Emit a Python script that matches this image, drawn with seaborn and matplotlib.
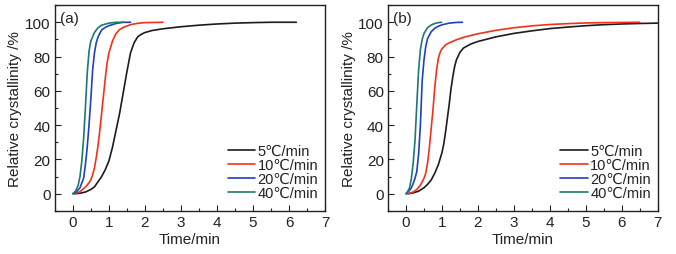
import matplotlib
matplotlib.use("Agg")
import matplotlib.pyplot as plt
from matplotlib.ticker import MultipleLocator
import seaborn as sns
import pandas as pd

sns.set_theme(style="white")
plt.rcParams['font.family'] = ['Liberation Sans', 'DejaVu Sans']

labels = ["5℃/min", "10℃/min", "20℃/min", "40℃/min"]
colors = ["#1c1c1c", "#f5301a", "#2040c0", "#1a7a70"]

# Panel (a)
a5_t = [0.05,0.2,0.35,0.5,0.6,0.7,0.8,0.9,1.0,1.1,1.2,1.3,1.4,1.5,1.6,1.7,1.8,1.9,2.0,2.2,2.5,3.0,3.5,4.0,4.5,5.0,5.5,6.2]
a5_y = [0,0.3,1,2.5,4,7,10,14,19,27,37,47,59,71,82,88,91.5,93,94,95.2,96.2,97.4,98.3,99,99.5,99.8,100,100]
a10_t = [0.05,0.2,0.3,0.4,0.5,0.55,0.6,0.65,0.7,0.75,0.8,0.85,0.9,0.95,1.0,1.1,1.2,1.3,1.4,1.6,1.8,2.0,2.5]
a10_y = [0,1.2,3,5,8,11,15,21,28,37,47,57,67,76,82,89,93.5,95.8,97,98.6,99.4,99.8,100]
a20_t = [0.0,0.1,0.2,0.3,0.35,0.4,0.45,0.5,0.55,0.6,0.65,0.7,0.8,0.9,1.0,1.2,1.4,1.6]
a20_y = [0,1,3.5,9,17,27,40,55,72,82,88,91.5,95.5,97,98,99.3,100,100]
a40_t = [0.0,0.05,0.1,0.15,0.2,0.25,0.3,0.35,0.4,0.45,0.5,0.6,0.7,0.8,1.0,1.2,1.4]
a40_y = [0,1,2.5,5,10,19,32,50,70,83,89,94,96.8,98.3,99.5,100,100]

# Panel (b)
b5_t = [0.05,0.2,0.35,0.5,0.6,0.7,0.8,0.9,1.0,1.05,1.1,1.15,1.2,1.25,1.3,1.35,1.4,1.5,1.6,1.8,2.0,2.5,3.0,3.5,4.0,4.5,5.0,5.5,6.0,6.5,7.0]
b5_y = [0,0.5,1.5,3.5,5.5,8,12,17,24,29,36,44,52,61,68,74,78,82.5,85,87.3,88.8,91.5,93.5,95,96.3,97.2,98,98.6,99,99.3,99.5]
b10_t = [0.05,0.2,0.3,0.4,0.5,0.55,0.6,0.65,0.7,0.75,0.8,0.85,0.9,0.95,1.0,1.1,1.2,1.4,1.6,1.8,2.0,2.5,3.0,3.5,4.0,4.5,5.0,5.5,6.0,6.5]
b10_y = [0,1,2.5,5,9,12,18,27,38,49,62,72,79,82.5,84.5,86.8,88,89.8,91.2,92.3,93.3,95.3,96.8,97.9,98.7,99.2,99.6,99.8,99.9,100]
b20_t = [0.0,0.05,0.1,0.15,0.2,0.25,0.3,0.35,0.4,0.45,0.5,0.55,0.6,0.7,0.8,0.9,1.0,1.2,1.4,1.57]
b20_y = [0,1,2,3.5,6,9,13,23,40,66,78,86,90.5,94.5,96.5,97.7,98.5,99.5,99.9,100]
b40_t = [0.0,0.05,0.1,0.15,0.2,0.25,0.3,0.35,0.4,0.45,0.5,0.6,0.7,0.8,0.9,0.99]
b40_y = [0,1.5,3.5,9,18,31,52,72,84,90,93.5,96.8,98.4,99.3,99.8,100]

panels = [
    ("(a)", [(a5_t, a5_y), (a10_t, a10_y), (a20_t, a20_y), (a40_t, a40_y)]),
    ("(b)", [(b5_t, b5_y), (b10_t, b10_y), (b20_t, b20_y), (b40_t, b40_y)]),
]

fig = plt.figure(figsize=(6.76, 2.55), dpi=100)
rects = [[0.081, 0.169, 0.400, 0.807], [0.574, 0.169, 0.399, 0.807]]

for rect, (tag, series) in zip(rects, panels):
    ax = fig.add_axes(rect)
    rows = []
    for lab, (t, y) in zip(labels, series):
        for ti, yi in zip(t, y):
            rows.append({"t": ti, "y": yi, "rate": lab})
    df = pd.DataFrame(rows)
    sns.lineplot(data=df, x="t", y="y", hue="rate", palette=colors, hue_order=labels,
                 estimator=None, sort=False, linewidth=1.2, ax=ax)
    ax.set_xlim(-0.5, 7)
    ax.set_ylim(-10, 110)
    ax.xaxis.set_major_locator(MultipleLocator(1))
    ax.xaxis.set_minor_locator(MultipleLocator(0.5))
    ax.yaxis.set_major_locator(MultipleLocator(20))
    ax.yaxis.set_minor_locator(MultipleLocator(10))
    ax.tick_params(which='both', direction='in', bottom=True, left=True, top=False, right=False,
                   labelsize=11, colors='#222222', pad=3)
    ax.tick_params(which='major', length=4, width=0.8)
    ax.tick_params(which='minor', length=2, width=0.8)
    for s in ax.spines.values():
        s.set_color('#222222')
        s.set_linewidth(1.0)
    ax.set_xlabel("Time/min", fontsize=11, color='#222222', labelpad=2)
    ax.set_ylabel("Relative crystallinity /%", fontsize=11, color='#222222', labelpad=2)
    ax.text(0.02, 0.97, tag, transform=ax.transAxes, ha='left', va='top', fontsize=11, color='#222222')
    leg = ax.legend(loc='lower right', bbox_to_anchor=(0.985, 0.04), frameon=False,
                    fontsize=10.5, handlelength=1.9, handletextpad=0.15, labelspacing=0.0,
                    borderpad=0.1, borderaxespad=0.1)
    for txt in leg.get_texts():
        txt.set_color('#222222')

fig.savefig("out.png", dpi=100)
